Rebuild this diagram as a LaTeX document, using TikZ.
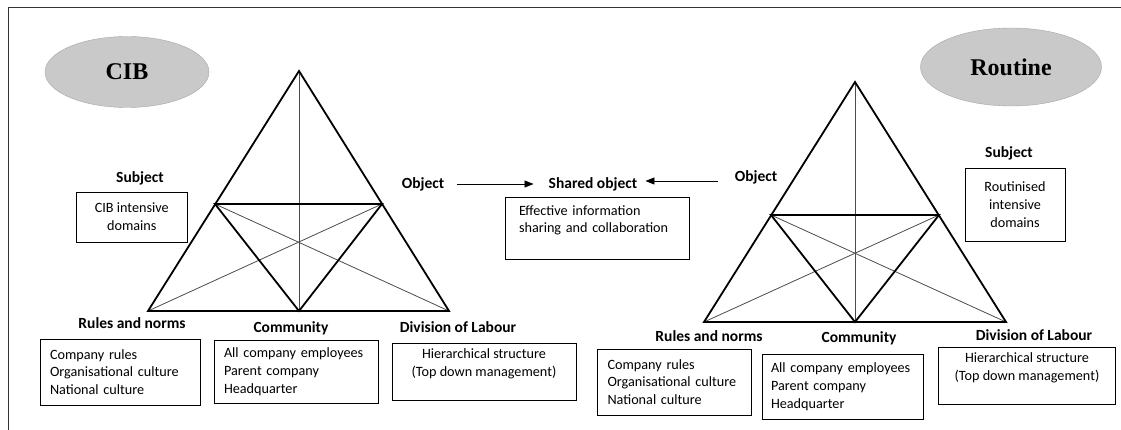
\documentclass[tikz,border=0pt]{standalone}
\usepackage{fontspec}
\setmainfont{Carlito}
\newfontfamily\titlefont{Liberation Serif}
\usetikzlibrary{shapes}
\usetikzlibrary{arrows.meta}
\tikzset{
    mylabel/.style = {font=\bfseries\fontsize{15.5}{18}\selectfont, inner sep=1pt},
    mycell/.style = {rectangle, draw=black, line width=0.8pt, inner sep=0pt, align=center},
    mycellleft/.style = {mycell, align=left, inner xsep=10pt},
    myoval/.style = {ellipse, draw=gray!70, fill=gray!42, font=\titlefont\bfseries\fontsize{24}{28}\selectfont},
    edgek/.style = {line width=1.8pt, line join=miter}, % thick frame of triangle
    edget/.style = {line width=0.8pt, gray!60!black}, % thin cross lines
    edgea/.style = {-{Triangle[length=9pt,width=7pt]}, line width=0.8pt},
    every picture/.style={font issue=\fontsize{14.2}{17.8}},
    font issue/.style={execute at begin picture={#1\selectfont}
  }
}
\begin{document}
\begin{tikzpicture}[x=1pt,y=-1pt]
\useasboundingbox (0,0) rectangle (1121,430);
\draw[line width=0.9pt,black!80] (8,430) -- (8,7) -- (1121,7);
%
\node[myoval,minimum width=164pt,minimum height=71pt] at (127,72) (cib) {CIB};
\node[myoval,minimum width=181pt,minimum height=78pt] at (1011,67) (routine) {Routine};
% left triangle
\coordinate (la) at (299,71);
\coordinate (lb) at (148,311);
\coordinate (lc) at (449,311);
\coordinate (lm) at (299,311);
\coordinate (lp) at (215,204);
\coordinate (lq) at (382,204);
\draw[edget] (la) -- (lm);
\draw[edget] (lb) -- (lq);
\draw[edget] (lc) -- (lp);
\draw[edgek] (la) -- (lb) -- (lc) -- cycle;
\draw[edgek] (lp) -- (lq) -- (lm) -- cycle;
% right triangle
\coordinate (ra) at (855,82);
\coordinate (rb) at (704,322);
\coordinate (rc) at (1006,322);
\coordinate (rm) at (855,322);
\coordinate (rp) at (771,215);
\coordinate (rq) at (939,215);
\draw[edget] (ra) -- (rm);
\draw[edget] (rb) -- (rq);
\draw[edget] (rc) -- (rp);
\draw[edgek] (ra) -- (rb) -- (rc) -- cycle;
\draw[edgek] (rp) -- (rq) -- (rm) -- cycle;
%
\node[mylabel] at (140,178) (subjl) {Subject};
\node[mylabel] at (132,323) (rulesl) {Rules and norms};
\node[mylabel] at (291,328) (comml) {Community};
\node[mylabel] at (458,327) (divl) {Division of Labour};
\node[mylabel] at (423,184) (objl) {Object};
\node[mylabel] at (593,184) (shared) {Shared object};
\node[mylabel] at (756,177) (objr) {Object};
\node[mylabel] at (1009,153) (subjr) {Subject};
\node[mylabel] at (709,336) (rulesr) {Rules and norms};
\node[mylabel] at (859,338) (commr) {Community};
\node[mylabel] at (1034,335) (divr) {Division of Labour};
%
\node[mycell,minimum width=111.5pt,minimum height=50pt] at (131.75,217) (subjlbox) {CIB intensive\\domains};
\node[mycellleft,text width=140.7pt,minimum height=66pt] at (120.35,372) (ruleslbox) {Company rules\\Organisational culture\\National culture};
\node[mycellleft,text width=144pt,minimum height=63pt] at (296,371.5) (commlbox) {All company employees\\Parent company\\Headquarter};
\node[mycell,minimum width=184pt,minimum height=57pt] at (484,371.5) (divlbox) {Hierarchical structure\\(Top down management)\\\mbox{}};
\node[mycellleft,inner xsep=14pt,text width=156pt,minimum height=62pt] at (597,228) (sharedbox) {Effective information\\sharing and collaboration\\\mbox{}};
\node[mycell,minimum width=100pt,minimum height=73pt] at (1015,204.5) (subjrbox) {Routinised\\intensive\\domains};
\node[mycellleft,inner xsep=10.5pt,text width=133pt,minimum height=66pt] at (674,382) (rulesrbox) {Company rules\\Organisational culture\\National culture};
\node[mycellleft,inner xsep=9pt,text width=143.6pt,minimum height=65pt] at (842.8,386.5) (commrbox) {All company employees\\Parent company\\Headquarter};
\node[mycell,minimum width=177pt,minimum height=57pt] at (1027,375.5) (divrbox) {Hierarchical structure\\(Top down management)\\\mbox{}};
%
\draw[edgea,shorten <=12pt,shorten >=14pt] (objl) -- (shared);
\draw[edgea,shorten <=16pt,shorten >=7pt] ([yshift=-4pt]objr.west) -- ([yshift=3pt]shared.east);
\end{tikzpicture}
\end{document}
